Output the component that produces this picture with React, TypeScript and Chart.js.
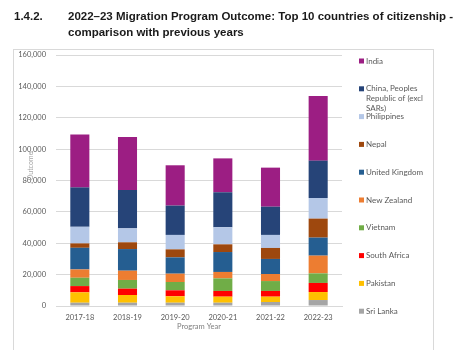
import React, { useEffect, useRef } from "react";
import { Chart, registerables } from "chart.js";

Chart.register(...registerables);

const categories = ["2017-18", "2018-19", "2019-20", "2020-21", "2021-22", "2022-23"];
const yTicks = [0, 20000, 40000, 60000, 80000, 100000, 120000, 140000, 160000];

const sriLanka = [2100, 2100, 2100, 2100, 2550, 3800];
const pakistan = [6600, 4900, 4100, 3850, 3400, 5100];
const southAfrica = [4000, 4050, 3800, 3650, 3650, 5800];
const vietnam = [5300, 5550, 5300, 8000, 6300, 6100];
const newZealand = [5300, 5900, 5300, 4100, 4500, 11300];
const unitedKingdom = [13800, 13800, 10400, 12700, 9600, 11500];
const nepal = [2800, 4300, 5100, 4900, 7000, 12100];
const philippines = [10600, 8900, 9200, 10900, 8300, 13150];
const china = [25100, 24450, 18700, 22300, 18000, 23800];
const india = [33700, 33750, 25700, 21600, 24900, 41250];

// bottom of stack first
const seriesNames = [
  "Sri Lanka",
  "Pakistan",
  "South Africa",
  "Vietnam",
  "New Zealand",
  "United Kingdom",
  "Nepal",
  "Philippines",
  "China, Peoples Republic of (excl SARs)",
  "India",
];
const seriesValues = [sriLanka, pakistan, southAfrica, vietnam, newZealand, unitedKingdom, nepal, philippines, china, india];
const seriesColors = [
  "#A5A5A5",
  "#FFC000",
  "#FF0000",
  "#70AD47",
  "#ED7D31",
  "#255E91",
  "#9E480E",
  "#B4C7E7",
  "#264478",
  "#9C1E83",
];
// legend label lines (top to bottom order of legend)
const legendLines: string[][] = [
  ["India"],
  ["China, Peoples", "Republic of (excl", "SARs)"],
  ["Philippines"],
  ["Nepal"],
  ["United Kingdom"],
  ["New Zealand"],
  ["Vietnam"],
  ["South Africa"],
  ["Pakistan"],
  ["Sri Lanka"],
];

const FONT = "Lato, 'Open Sans', sans-serif";

const decorPlugin = {
  id: "decor",
  beforeDraw(chart: any) {
    const ctx = chart.ctx;
    ctx.save();
    ctx.fillStyle = "#ffffff";
    ctx.fillRect(0, 0, chart.width, chart.height);
    ctx.strokeStyle = "#D9D9D9";
    ctx.lineWidth = 1;
    ctx.strokeRect(13.5, 49.5, 420, 340);
    ctx.restore();
  },
  afterDraw(chart: any) {
    const ctx = chart.ctx;
    const area = chart.chartArea;
    ctx.save();
    // legend
    ctx.font = `8px ${FONT}`;
    ctx.textBaseline = "middle";
    ctx.textAlign = "left";
    const startY = 61;
    const step = 27.8;
    legendLines.forEach((lines, i) => {
      const idx = seriesNames.length - 1 - i;
      const y = startY + i * step;
      ctx.fillStyle = seriesColors[idx];
      ctx.fillRect(359, y - 2.5, 5, 5);
      ctx.fillStyle = "#595959";
      lines.forEach((ln, j) => {
        ctx.fillText(ln, 366, y + j * 10);
      });
    });
    // y title
    ctx.save();
    ctx.translate(31, 166);
    ctx.rotate(-Math.PI / 2);
    ctx.textAlign = "center";
    ctx.fillStyle = "#A6A6A6";
    ctx.font = `7px ${FONT}`;
    ctx.fillText("Outcome", 0, 0);
    ctx.restore();
    // x title
    ctx.textAlign = "center";
    ctx.fillStyle = "#7F7F7F";
    ctx.font = `7.5px ${FONT}`;
    ctx.fillText("Program Year", (area.left + area.right) / 2, 327);
    ctx.restore();
  },
};

export default function App() {
  const canvasRef = useRef<HTMLCanvasElement | null>(null);

  useEffect(() => {
    const canvas = canvasRef.current;
    if (!canvas) return;
    const chart = new Chart(canvas, {
      type: "bar",
      data: {
        labels: categories,
        datasets: seriesNames.map((name, i) => ({
          label: name,
          data: seriesValues[i],
          backgroundColor: seriesColors[i],
          borderWidth: 0,
          categoryPercentage: 1,
          barPercentage: 0.4,
        })),
      },
      options: {
        responsive: false,
        animation: false,
        devicePixelRatio: 1,
        layout: { padding: { left: 0, top: 55, right: 132, bottom: 0 } },
        plugins: {
          legend: { display: false },
          title: { display: false },
          tooltip: { enabled: false },
        },
        scales: {
          x: {
            stacked: true,
            grid: { display: false, drawTicks: false },
            border: { display: true, color: "#D9D9D9", width: 1 },
            ticks: {
              color: "#595959",
              font: { family: FONT, size: 7.5 },
              padding: 7,
              maxRotation: 0,
            },
            afterFit(scale: any) {
              scale.height = 44;
            },
          },
          y: {
            stacked: true,
            min: 0,
            max: 160000,
            afterBuildTicks(scale: any) {
              scale.ticks = yTicks.map((v) => ({ value: v }));
            },
            grid: { color: "#D9D9D9", lineWidth: 1, drawTicks: false },
            border: { display: false },
            ticks: {
              color: "#595959",
              font: { family: FONT, size: 7.5 },
              padding: 10,
              callback: (v: any) => Number(v).toLocaleString("en-US"),
            },
            afterFit(scale: any) {
              scale.width = 56;
            },
          },
        },
      },
      plugins: [decorPlugin],
    });
    return () => chart.destroy();
  }, []);

  return (
    <div
      style={{
        position: "fixed",
        left: 0,
        top: 0,
        width: 474,
        height: 350,
        background: "#fff",
        overflow: "hidden",
      }}
    >
      <canvas ref={canvasRef} width={474} height={350} style={{ position: "absolute", left: 0, top: 0 }} />
      <div
        style={{
          position: "absolute",
          left: 14,
          top: 9,
          fontFamily: "'Liberation Sans', Arial, sans-serif",
          fontWeight: "bold",
          fontSize: 11.5,
          lineHeight: "15.5px",
          color: "#1a1a1a",
          whiteSpace: "nowrap",
        }}
      >
        1.4.2.
      </div>
      <div
        style={{
          position: "absolute",
          left: 68,
          top: 9,
          fontFamily: "'Liberation Sans', Arial, sans-serif",
          fontWeight: "bold",
          fontSize: 11.5,
          lineHeight: "15.5px",
          color: "#1a1a1a",
          whiteSpace: "nowrap",
        }}
      >
        <div>2022–23 Migration Program Outcome: Top 10 countries of citizenship -</div>
        <div>comparison with previous years</div>
      </div>
    </div>
  );
}
